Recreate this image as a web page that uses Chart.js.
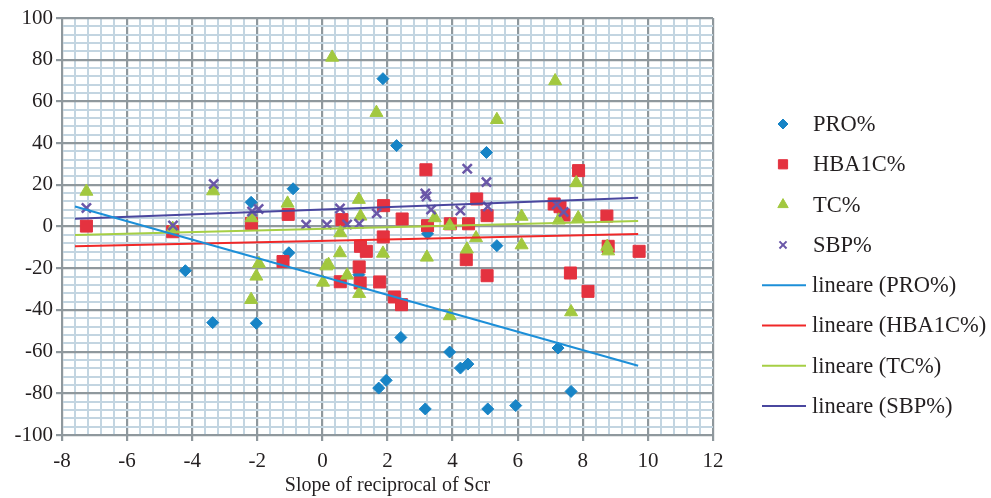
<!DOCTYPE html>
<html><head><meta charset="utf-8">
<script src="https://cdn.jsdelivr.net/npm/chart.js@4.4.1/dist/chart.umd.min.js"></script>
<style>html,body{margin:0;padding:0;background:#fff;}#wrap{width:991px;height:498px;position:relative;}</style>
</head><body><div id="wrap"><canvas id="c" width="991" height="498"></canvas></div>
<script>
const seriesNames = ['PRO%', 'HBA1C%', 'TC%', 'SBP%'];
const trendNames = ['lineare (PRO%)', 'lineare (HBA1C%)', 'lineare (TC%)', 'lineare (SBP%)'];
const xAxisTitle = 'Slope of reciprocal of Scr';
const xTickLabels = [-8, -6, -4, -2, 0, 2, 4, 6, 8, 10, 12];
const yTickLabels = [-100, -80, -60, -40, -20, 0, 20, 40, 60, 80, 100];

const proX = [-4.21, -3.37, -2.03, -2.19, -1.03, -0.90, 1.12, 1.86, 2.28, 5.04, 3.23, 5.36, 2.41, 3.91, 4.24, 4.47, 1.96, 1.73, 3.16, 5.08, 5.94, 7.24, 7.64];
const proY = [-21.2, -46.1, -46.4, 11.6, -12.6, 18.1, -23.1, 70.9, 38.8, 35.5, -3.5, -9.2, -53.2, -60.2, -67.9, -66.0, -73.8, -77.5, -87.5, -87.5, -85.9, -58.3, -79.1];

const hbaX = [-7.25, -4.60, -2.18, -1.05, -1.21, 0.60, 0.55, 1.13, 1.16, 1.17, 1.35, 1.76, 1.87, 1.88, 2.21, 2.43, 2.45, 3.18, 3.23, 3.93, 4.42, 4.49, 4.74, 5.06, 5.06, 7.12, 7.30, 7.42, 7.62, 7.87, 8.16, 8.74, 8.78, 9.73];
const hbaY = [0.2, -2.5, 1.5, 5.8, -16.8, 3.3, -26.5, -19.4, -27.1, -9.5, -11.9, -26.6, -5.0, 10.0, -33.8, -37.5, 3.6, 27.2, 0.4, 1.3, -15.9, 1.3, 13.2, 5.2, -23.6, 10.8, 9.5, 5.5, -22.3, 26.8, -31.1, 5.0, -9.5, -11.9];

const tcX = [-7.25, -4.60, -3.36, -2.18, -1.95, -2.03, -2.19, -1.07, 0.02, 0.12, 0.19, 0.30, 0.55, 0.54, 0.76, 1.12, 1.17, 1.13, 1.66, 1.86, 3.21, 3.45, 3.91, 3.91, 4.44, 4.72, 5.36, 6.12, 6.12, 7.15, 7.26, 7.64, 7.80, 7.86, 8.75, 8.78];
const tcY = [16.8, -1.0, 17.0, 4.1, -17.8, -23.9, -35.1, 11.1, -26.8, -19.0, -18.3, 81.1, -3.1, -12.7, -23.4, 12.9, 4.9, -32.2, 54.6, -12.9, -14.8, 4.1, 0.4, -42.9, -10.9, -5.5, 51.2, 4.8, -8.9, 69.8, 3.0, -41.0, 20.9, 4.1, -9.6, -11.8];

const sbpX = [-7.25, -4.59, -3.34, -2.16, -1.96, -0.50, 0.14, 0.54, 0.76, 1.13, 1.67, 3.16, 3.20, 3.34, 4.24, 4.45, 5.04, 5.08, 7.20, 7.41];
const sbpY = [8.9, 0.5, 20.4, 7.2, 8.4, 0.9, 0.9, 8.6, 1.0, 1.3, 6.3, 15.8, 14.4, 8.1, 7.7, 27.7, 21.3, 9.6, 10.5, 7.0];

const trendX = [-7.6, 9.7];
const proTrendY = [9.6, -66.8];
const hbaTrendY = [-9.5, -3.6];
const tcTrendY = [-4.1, 2.6];
const sbpTrendY = [3.7, 13.8];

function pts(xs, ys) { return xs.map((x, i) => ({ x: x, y: ys[i] })); }

const markerColors = ['#1784c6', '#e4323f', '#a2c83f', '#6a57a8'];
const lineColors = ['#1c8fd8', '#f02828', '#a6cf45', '#4a479f'];
const styles = ['rectRot', 'rect', 'triangle', 'crossRot'];
const radii = [6, 8.5, 7.5, 6.5];

const markerData = [pts(proX, proY), pts(hbaX, hbaY), pts(tcX, tcY), pts(sbpX, sbpY)];
const trendData = [pts(trendX, proTrendY), pts(trendX, hbaTrendY), pts(trendX, tcTrendY), pts(trendX, sbpTrendY)];

const datasets = [];
seriesNames.forEach((n, i) => {
  datasets.push({
    label: n, data: markerData[i], showLine: false,
    pointStyle: styles[i], pointRadius: radii[i], pointHoverRadius: radii[i],
    backgroundColor: markerColors[i], borderColor: markerColors[i],
    pointBorderWidth: i === 3 ? 2.5 : 1, order: 4 - i
  });
});
trendNames.forEach((n, i) => {
  datasets.push({
    label: n, data: trendData[i], showLine: true, pointRadius: 0,
    borderColor: lineColors[i], backgroundColor: lineColors[i], borderWidth: 2, order: 0
  });
});

function isMajor(v, step) { return Math.abs(v / step - Math.round(v / step)) < 1e-6; }
const MAJOR = '#8f989d', MINOR = '#c3d5e1';

const legendPlugin = {
  id: 'sideLegend',
  afterDraw(chart) {
    const ctx = chart.ctx;
    ctx.save();
    ctx.font = "22.5px 'Liberation Serif', serif";
    ctx.fillStyle = '#231f20';
    ctx.textBaseline = 'middle';
    const mx = 783, tx = 813, y0 = 124, dy = 40.3;
    const legendRadii = [5, 6.5, 6, 5];
    seriesNames.forEach((n, i) => {
      const y = y0 + i * dy;
      ctx.fillStyle = markerColors[i];
      ctx.strokeStyle = markerColors[i];
      ctx.lineWidth = i === 3 ? 2 : 1;
      Chart.helpers.drawPoint(ctx, { pointStyle: styles[i], radius: legendRadii[i], borderWidth: ctx.lineWidth, rotation: 0 }, mx, y);
      ctx.fillStyle = '#231f20';
      ctx.fillText(n, tx, y + 1);
    });
    trendNames.forEach((n, i) => {
      const y = y0 + (i + 4) * dy;
      ctx.strokeStyle = lineColors[i];
      ctx.lineWidth = 2;
      ctx.beginPath(); ctx.moveTo(762, y); ctx.lineTo(806, y); ctx.stroke();
      ctx.fillStyle = '#231f20';
      ctx.fillText(n, tx - 1, y + 1);
    });
    ctx.restore();
  }
};

Chart.defaults.font.family = "'Liberation Serif', serif";
Chart.defaults.font.size = 21;
Chart.defaults.color = '#231f20';

new Chart(document.getElementById('c'), {
  type: 'scatter',
  data: { datasets: datasets },
  options: {
    responsive: false, animation: false, devicePixelRatio: 1,
    layout: { padding: { left: 0, right: 278, top: 18, bottom: 0 } },
    plugins: { legend: { display: false }, tooltip: { enabled: false } },
    scales: {
      x: {
        type: 'linear', min: -8, max: 12,
        afterFit(s) { s.height = 63; },
        border: { display: true, color: MAJOR, width: 2 },
        grid: {
          color: c => isMajor(c.tick.value, 2) ? MAJOR : MINOR,
          lineWidth: c => isMajor(c.tick.value, 2) ? 2.2 : 2,
          tickColor: c => isMajor(c.tick.value, 2) ? MAJOR : 'rgba(0,0,0,0)',
          tickLength: 6, drawTicks: true
        },
        ticks: {
          stepSize: 0.4, autoSkip: false, maxRotation: 0, padding: 8,
          callback: v => xTickLabels.find(t => Math.abs(t - v) < 1e-6) !== undefined ? String(Math.round(v)) : ''
        },
        title: { display: true, text: xAxisTitle, font: { size: 20 }, padding: { top: 0, bottom: 0 } }
      },
      y: {
        type: 'linear', min: -100, max: 100,
        afterFit(s) { s.width = 62; },
        border: { display: true, color: MAJOR, width: 2 },
        grid: {
          color: c => isMajor(c.tick.value, 20) ? MAJOR : MINOR,
          lineWidth: c => isMajor(c.tick.value, 20) ? 2.2 : 2,
          tickColor: c => isMajor(c.tick.value, 20) ? MAJOR : 'rgba(0,0,0,0)',
          tickLength: 6
        },
        ticks: {
          stepSize: 4, autoSkip: false, padding: 3,
          callback: v => yTickLabels.find(t => Math.abs(t - v) < 1e-6) !== undefined ? String(Math.round(v)) : ''
        }
      }
    }
  },
  plugins: [legendPlugin]
});
</script></body></html>
